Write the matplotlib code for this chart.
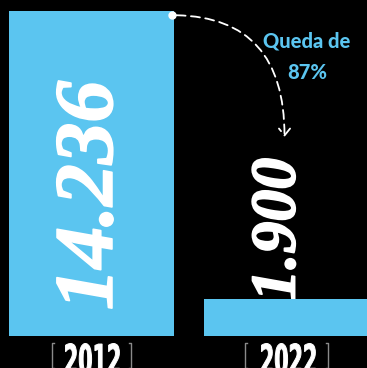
import matplotlib
matplotlib.use("Agg")
import matplotlib.pyplot as plt
import matplotlib.patheffects as pe
from matplotlib.patches import FancyArrowPatch, PathPatch
from matplotlib.textpath import TextPath
from matplotlib.font_manager import FontProperties
from matplotlib.transforms import Affine2D
from matplotlib.lines import Line2D

# data
years = ["2012", "2022"]
values = [14236, 1900]
value_labels = ["14.236", "1.900"]
note_lines = ["Queda de", "87%"]

BLUE = "#5bc5f0"
BG = "#000000"
W, H = 367, 368

fig = plt.figure(figsize=(W / 100, H / 100), dpi=100, facecolor=BG)
# bars sit on a baseline 32 px above the bottom edge
ax = fig.add_axes([0, 32 / H, 1, 336 / H])
ax.set_facecolor(BG)

x = [0, 1]
ax.bar(x, values, width=0.846, color=BLUE, zorder=2)
ax.set_xlim(-0.469, 1.413)
ax.set_ylim(300, 14708)
ax.axis("off")

serif = dict(family=["Liberation Serif", "DejaVu Serif"], weight="bold",
             style="italic", color="white")
thick = [pe.withStroke(linewidth=1.2, foreground="white")]

# big value in first bar
ax.text(x[0] + 0.005, values[0] * 0.445, value_labels[0], rotation=90,
        ha="center", va="center", fontsize=60, zorder=3,
        path_effects=thick, **serif)
# second value sits on top of its bar (its foot is tucked behind the bar)
ax.text(x[1] - 0.035, values[1] - 120, value_labels[1], rotation=90,
        ha="center", va="bottom", fontsize=46, zorder=1,
        path_effects=thick, **serif)


def condensed_label(s, cx, top, width, height):
    """Draw s squeezed into a box given in pixels from the top-left corner."""
    tp = TextPath((0, 0), s, size=10,
                  prop=FontProperties(family="DejaVu Sans", weight="bold"))
    ext = tp.get_extents()
    tr = (Affine2D().translate(-ext.x0 - ext.width / 2, -ext.y1)
          .scale(width / ext.width, height / ext.height)
          .translate(cx, H - top))
    fig.add_artist(PathPatch(tp, transform=tr, facecolor="white",
                             edgecolor="white", lw=0.7))


def bracket(xpix, side):
    d = 2 if side == "left" else -2
    fig.add_artist(Line2D([xpix + d, xpix, xpix, xpix + d],
                          [H - 343, H - 343, 0, 0],
                          color="#8a8a8a", lw=1.0, transform=None))


# year labels with thin brackets
for cx, yr, (bl, br) in zip([92.5, 288.5], years, [(52, 131), (245, 328)]):
    condensed_label(yr, cx, 343.5, 54, 31)
    bracket(bl, "left")
    bracket(br, "right")

# dashed curved arrow from top of first bar to second bar
start = (x[0] + 0.415, values[0] - 180)
end = (x[1] - 0.01, values[0] - 5400)
ax.plot(*start, "o", color="white", markersize=5, zorder=4, clip_on=False)
arrow = FancyArrowPatch(start, end,
                        connectionstyle="angle3,angleA=0,angleB=90",
                        arrowstyle="->,head_length=5,head_width=4",
                        color="white", lw=1.3, linestyle=(0, (5, 3)),
                        zorder=4, shrinkA=3, shrinkB=0)
ax.add_patch(arrow)

sans = dict(family=["Lato", "DejaVu Sans"], weight="black", color=BLUE,
            fontsize=14.5, ha="center", va="center")
ax.text(1.105, values[0] - 1300, note_lines[0], **sans)
ax.text(1.105, values[0] - 2620, note_lines[1], **sans)

fig.savefig("out.png", dpi=100, facecolor=BG)
